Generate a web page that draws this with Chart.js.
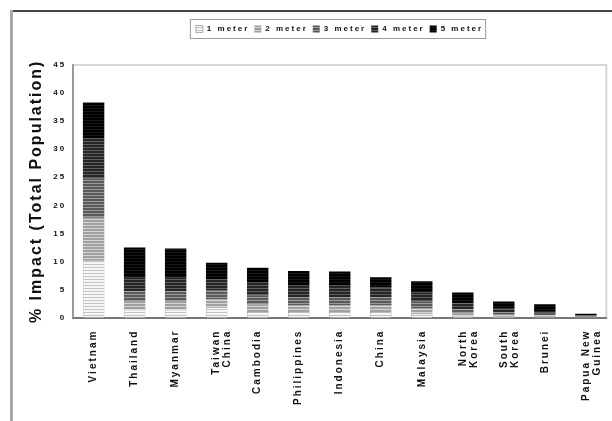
<!DOCTYPE html>
<html lang="en">

<head>
    <meta charset="UTF-8">
    <title>% Impact (Total Population)</title>
    <style>
        html, body {
            margin: 0;
            padding: 0;
            background: #ffffff;
        }

        .chart-container {
            width: 612px;
            height: 421px;
            position: relative;
        }
    </style>
    <script src="https://cdn.jsdelivr.net/npm/chart.js@4.4.1/dist/chart.umd.min.js"></script>
</head>

<body>
    <div class="chart-container">
        <canvas id="impact-chart" width="612" height="421"></canvas>
    </div>

    <script>
        const countries = [
            'Vietnam', 'Thailand', 'Myanmar', ['Taiwan', 'China'], 'Cambodia', 'Philippines',
            'Indonesia', 'China', 'Malaysia', ['North', 'Korea'], ['South', 'Korea'], 'Brunei',
            ['Papua New', 'Guinea']
        ];
        const seriesNames = ['1 meter', '2 meter', '3 meter', '4 meter', '5 meter'];

        // part of each bar for each meter of sea level rise (stacked)
        const meter1 = [10.2, 1.4, 1.4, 1.8, 1.0, 1.0, 1.0, 1.0, 0.7, 0.3, 0.2, 0.15, 0.05];
        const meter2 = [7.6, 1.5, 1.5, 1.5, 1.4, 1.2, 1.2, 1.2, 1.0, 0.5, 0.3, 0.25, 0.1];
        const meter3 = [7.0, 1.8, 1.8, 1.6, 1.6, 1.5, 1.5, 1.4, 1.2, 0.7, 0.5, 0.3, 0.1];
        const meter4 = [7.2, 2.4, 2.4, 2.0, 2.2, 2.0, 2.0, 1.8, 1.6, 1.0, 0.6, 0.5, 0.15];
        const meter5 = [6.3, 5.4, 5.2, 2.9, 2.7, 2.6, 2.5, 1.8, 2.0, 2.0, 1.3, 1.2, 0.3];

        const yTicks = [0, 5, 10, 15, 20, 25, 30, 35, 40, 45];

        // striped fills, lighter to darker
        function stripes(base, line) {
            const c = document.createElement('canvas');
            c.width = 4;
            c.height = 3;
            const g = c.getContext('2d');
            g.fillStyle = base;
            g.fillRect(0, 0, 4, 3);
            g.fillStyle = line;
            g.fillRect(0, 0, 4, 1);
            return g.createPattern(c, 'repeat');
        }
        const fills = [
            stripes('#f6f6f6', '#c4c4c4'),
            stripes('#a0a0a0', '#d4d4d4'),
            stripes('#5a5a5a', '#9a9a9a'),
            stripes('#262626', '#5e5e5e'),
            stripes('#000000', '#161616')
        ];
        const allSeries = [meter1, meter2, meter3, meter4, meter5];

        // the picture's text is widely spaced
        const spacingPlugin = {
            id: 'spacingPlugin',
            beforeLayout(chart) { chart.ctx.letterSpacing = '2px'; },
            beforeDraw(chart) { chart.ctx.letterSpacing = '2px'; }
        };

        // room under the legend, and legend sits a bit right of centre
        const legendGap = {
            id: 'legendGap',
            beforeInit(chart) {
                const fit = chart.legend.fit;
                chart.legend.fit = function () {
                    fit.bind(chart.legend)();
                    this.height += 22;
                };
            },
            afterLayout(chart) {
                chart.legend.left += 22;
                chart.legend.right += 22;
            }
        };

        // frame lines, plot border and box round the legend
        const framePlugin = {
            id: 'framePlugin',
            beforeDraw(chart) {
                const ctx = chart.ctx;
                const a = chart.chartArea;
                ctx.save();
                ctx.fillStyle = '#ffffff';
                ctx.fillRect(0, 0, chart.width, chart.height);
                ctx.fillStyle = '#444444';
                ctx.fillRect(11, 10, chart.width - 11, 2);
                ctx.fillStyle = '#a8a8a8';
                ctx.fillRect(10, 10, 3, chart.height - 10);
                ctx.strokeStyle = '#d6d6d6';
                ctx.lineWidth = 2;
                ctx.beginPath();
                ctx.moveTo(a.left, a.top);
                ctx.lineTo(a.right, a.top);
                ctx.lineTo(a.right, a.bottom);
                ctx.stroke();
                const lg = chart.legend;
                if (lg && lg.legendHitBoxes.length) {
                    const first = lg.legendHitBoxes[0];
                    const last = lg.legendHitBoxes[lg.legendHitBoxes.length - 1];
                    ctx.strokeStyle = '#9a9a9a';
                    ctx.lineWidth = 1;
                    ctx.strokeRect(first.left - 5.5, first.top - 5.5, last.left + last.width - first.left + 8, first.height + 11);
                }
                ctx.restore();
            }
        };

        new Chart(document.getElementById('impact-chart'), {
            type: 'bar',
            data: {
                labels: countries,
                datasets: seriesNames.map((name, i) => ({
                    label: name,
                    data: allSeries[i],
                    backgroundColor: fills[i],
                    borderColor: '#666666',
                    borderWidth: i === 0 ? 0.5 : 0
                }))
            },
            options: {
                responsive: false,
                animation: false,
                layout: {
                    padding: { left: 27, right: 4, top: 20, bottom: 12 }
                },
                datasets: {
                    bar: { categoryPercentage: 0.9, barPercentage: 0.58 }
                },
                plugins: {
                    legend: {
                        position: 'top',
                        labels: {
                            color: '#111111',
                            font: { family: 'Liberation Sans', size: 8, weight: 'bold' },
                            boxWidth: 7,
                            boxHeight: 7,
                            padding: 5
                        }
                    },
                    tooltip: { enabled: false }
                },
                scales: {
                    x: {
                        stacked: true,
                        grid: { display: false },
                        border: { color: '#777777', width: 2 },
                        ticks: {
                            color: '#111111',
                            autoSkip: false,
                            minRotation: 90,
                            maxRotation: 90,
                            padding: 4,
                            font: { family: 'Liberation Sans', size: 10, weight: 'bold', lineHeight: 1.1 }
                        }
                    },
                    y: {
                        stacked: true,
                        min: 0,
                        max: 45,
                        afterBuildTicks: (axis) => {
                            axis.ticks = yTicks.map(v => ({ value: v }));
                        },
                        grid: { display: false, drawTicks: false },
                        border: { color: '#999999', width: 2 },
                        ticks: {
                            color: '#111111',
                            padding: 7,
                            font: { family: 'Liberation Sans', size: 8, weight: 'bold' }
                        },
                        title: {
                            display: true,
                            text: '% Impact (Total Population)',
                            color: '#111111',
                            padding: { top: 0, bottom: 0 },
                            font: { family: 'Liberation Sans', size: 16, weight: 'bold' }
                        }
                    }
                }
            },
            plugins: [spacingPlugin, legendGap, framePlugin]
        });
    </script>
</body>

</html>
